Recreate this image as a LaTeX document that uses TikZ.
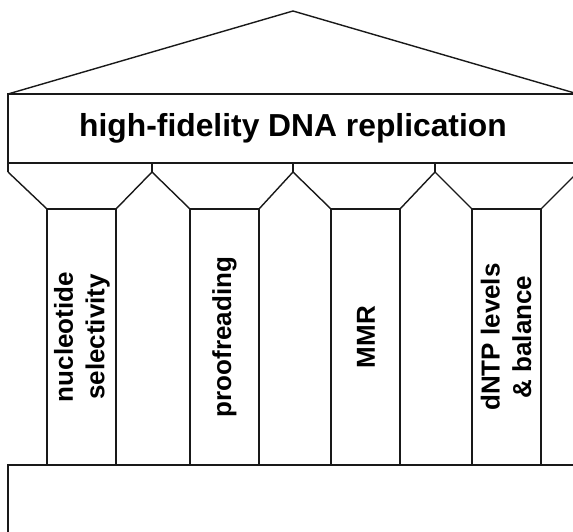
\documentclass[tikz,border=0pt]{standalone}
\usepackage{fontspec}
\setmainfont{Liberation Sans}
\newcommand\titlefnt{\bfseries\fontsize{31.8}{38}\selectfont}
\newcommand\colfnt{\bfseries\fontsize{26}{31.5}\selectfont}
\tikzset{
  edge/.style={line width=1.4pt, line join=miter, draw=black!90},
  collabel/.style={rotate=90, font=\colfnt, align=center, inner sep=0pt},
  titlelabel/.style={font=\titlefnt, inner sep=0pt, anchor=base}
}
\begin{document}
\begin{tikzpicture}[x=1pt,y=1pt]
\useasboundingbox (0,0) rectangle (573,531);
\fill[white] (0,0) rectangle (573,531);
\clip (0,0) rectangle (573,531);
% roof
\draw[edge] (8,437) -- (293,520) -- (578,437);
% frieze
\draw[edge] (8,437) rectangle (578,368);
% capital ticks
\foreach \xx in {8,152,293,435,578}
  \draw[edge] (\xx,368) -- (\xx,359);
% capital slants
\draw[edge] (8,359) -- (47,322);
\draw[edge] (116,322) -- (152,359) -- (190,322);
\draw[edge] (259,322) -- (293,359) -- (331,322);
\draw[edge] (400,322) -- (435,359) -- (472,322);
\draw[edge] (541,322) -- (578,359);
% columns
\draw[edge] (47,66) rectangle (116,322);
\draw[edge] (190,66) rectangle (259,322);
\draw[edge] (331,66) rectangle (400,322);
\draw[edge] (472,66) rectangle (541,322);
% base
\draw[edge] (8,-10) rectangle (578,66);
% texts
\node[titlelabel] (title) at (293,394) {high-fidelity DNA replication};
\node[collabel] (c1) at (82,194) {nucleotide\\selectivity};
\node[collabel] (c2) at (224.5,194) {proofreading};
\node[collabel] (c3) at (366,194) {MMR};
\node[collabel] (c4) at (506,194) {dNTP levels\\\& balance};
\end{tikzpicture}
\end{document}
